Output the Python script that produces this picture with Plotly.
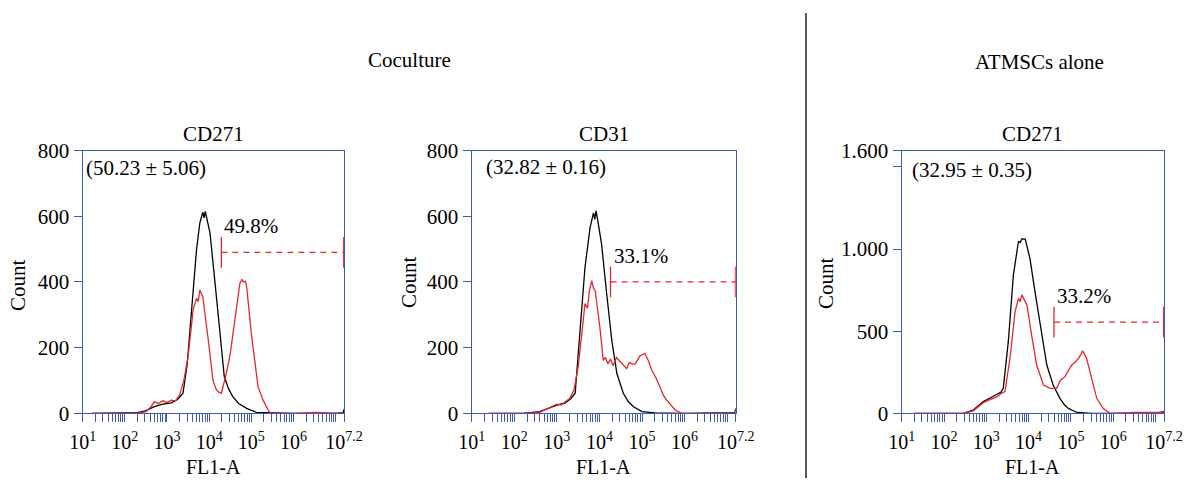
import plotly.graph_objects as go

# ---------------- data (x in log10 FL1-A units, y = count) ----------------
p1_black_log = [1.2, 2.0, 2.3, 2.5, 2.7, 2.9, 3.1, 3.25, 3.38, 3.48, 3.58, 3.70, 3.78, 3.85, 3.88, 3.91, 3.95,
                4.02, 4.14, 4.25, 4.36, 4.46, 4.56, 4.70, 4.89, 5.12, 5.5, 6.0, 7.0, 7.18, 7.2]
p1_black_cnt = [0, 0, 2, 8, 20, 28, 32, 42, 61, 150, 315, 497, 580, 612, 595, 615, 590,
                549, 397, 245, 111, 75, 51, 30, 15, 3, 1, 0, 0, 2, 12]
p1_red_log = [1.2, 2.0, 2.3, 2.5, 2.62, 2.7, 2.8, 2.9, 3.0, 3.1, 3.2, 3.3, 3.4, 3.5, 3.62, 3.7, 3.74, 3.78, 3.85,
              3.98, 4.09, 4.16, 4.21, 4.29, 4.35, 4.41, 4.5, 4.57, 4.65, 4.73, 4.78, 4.81, 4.86, 4.89, 5.0,
              5.08, 5.16, 5.28, 5.4, 5.46, 6.0, 6.5, 7.0, 7.2]
p1_red_cnt = [0, 0, 0, 5, 20, 35, 30, 38, 33, 40, 38, 55, 100, 172, 315, 350, 340, 375, 354,
              223, 101, 75, 66, 61, 90, 122, 180, 244, 320, 396, 408, 400, 402, 386, 244,
              160, 81, 40, 10, 0, 0, 3, 0, 0]

p2_black_log = [1.4, 2.2, 2.6, 2.8, 3.0, 3.2, 3.33, 3.43, 3.54, 3.66, 3.78, 3.86, 3.89, 3.92, 3.97, 4.05,
                4.17, 4.29, 4.41, 4.56, 4.68, 4.8, 5.0, 5.3, 6.0, 7.0, 7.18, 7.2]
p2_black_cnt = [0, 0, 5, 15, 25, 32, 45, 61, 242, 444, 565, 610, 590, 616, 580, 515,
                364, 222, 121, 61, 35, 20, 5, 1, 0, 0, 2, 15]
p2_red_log = [1.4, 2.2, 2.6, 2.8, 3.0, 3.1, 3.2, 3.3, 3.4, 3.5, 3.6, 3.66, 3.72, 3.76, 3.82, 3.86, 3.9,
              4.01, 4.09, 4.14, 4.2, 4.26, 4.32, 4.4, 4.47, 4.55, 4.64, 4.7, 4.77, 4.84, 4.95, 5.07,
              5.15, 5.23, 5.32, 5.42, 5.5, 5.58, 5.68, 5.78, 5.93, 6.5, 7.2]
p2_red_cnt = [0, 0, 3, 15, 28, 25, 35, 45, 70, 141, 260, 334, 320, 370, 404, 380, 373,
              262, 161, 170, 150, 165, 145, 170, 160, 150, 136, 155, 150, 150, 175, 182,
              160, 131, 110, 81, 55, 40, 25, 10, 0, 0, 0]

p3_black_log = [1.3, 2.0, 2.46, 2.69, 2.8, 2.93, 3.1, 3.25, 3.35, 3.40, 3.52, 3.64, 3.76, 3.8, 3.84, 3.92,
                4.03, 4.15, 4.27, 4.43, 4.58, 4.74, 4.85, 4.94, 5.14, 5.5, 7.0, 7.2]
p3_black_cnt = [0, 0, 0, 20, 45, 71, 95, 115, 130, 152, 436, 843, 1046, 1040, 1062, 1060,
                944, 741, 538, 294, 172, 91, 50, 30, 5, 0, 0, 10]
p3_red_log = [1.3, 2.0, 2.46, 2.69, 2.8, 2.93, 3.1, 3.25, 3.35, 3.44, 3.56, 3.68, 3.76, 3.8, 3.84, 3.9, 3.96,
              4.07, 4.19, 4.35, 4.51, 4.66, 4.75, 4.86, 4.94, 5.02, 5.1, 5.18, 5.28, 5.37, 5.49,
              5.61, 5.76, 5.92, 6.5, 7.2]
p3_red_cnt = [0, 0, 0, 15, 40, 65, 85, 100, 120, 132, 335, 619, 700, 680, 721, 690, 660,
              477, 294, 172, 152, 152, 200, 223, 260, 294, 310, 335, 380, 335, 213,
              91, 30, 0, 5, 5]

panel_titles = ["CD271", "CD31", "CD271"]
group_titles = ["Coculture", "ATMSCs alone"]
mean_labels = ["(50.23 ± 5.06)", "(32.82 ± 0.16)", "(32.95 ± 0.35)"]
gate_labels = ["49.8%", "33.1%", "33.2%"]
gate_start_log = [4.29, 4.26, 4.60]
gate_end_log = [7.2, 7.2, 7.2]
gate_level = [490, 400, 555]
y_max = [800, 800, 1600]
y_tickvals = [[0, 200, 400, 600, 800], [0, 200, 400, 600, 800], [0, 500, 1000, 1600]]
y_ticktext = [["0", "200", "400", "600", "800"], ["0", "200", "400", "600", "800"],
              ["0", "500", "1.000", "1.600"]]
y_minor_vals = [[], [], [1500]]
x_decades = [1, 2, 3, 4, 5, 6]
x_label_top = 7.2
x_title = "FL1-A"
y_title = "Count"

# ---------------- style ----------------
BLUE = "#3d5bb4"
RED = "#e5262b"
FONT = "Liberation Serif, Times New Roman, serif"
FS = 21
W, H = 1185, 480
boxes = [(82.7, 344.0), (471.7, 735.7), (901.7, 1164.0)]  # px left/right
box_top, box_bot = 150.5, 413.3

def px(x):
    return x / W

def py(y):
    return 1 - y / H

# x tick values: labelled decades, minor multiples
xt_vals = [10 ** d for d in x_decades] + [10 ** x_label_top]
xt_text = [f"10<sup>{d}</sup>" for d in x_decades] + [f"10<sup>{x_label_top}</sup>"]
xm_vals = []
for d in range(1, 8):
    for m in range(1 if d == 7 else 2, 10):
        v = m * 10 ** d
        if v < 10 ** x_label_top:
            xm_vals.append(v)

panels = [
    (p1_black_log, p1_black_cnt, p1_red_log, p1_red_cnt),
    (p2_black_log, p2_black_cnt, p2_red_log, p2_red_cnt),
    (p3_black_log, p3_black_cnt, p3_red_log, p3_red_cnt),
]

fig = go.Figure()
layout = dict(width=W, height=H, margin=dict(l=0, r=0, t=0, b=0, autoexpand=False), autosize=False,
              paper_bgcolor="white", plot_bgcolor="white", showlegend=False,
              font=dict(family=FONT, size=FS, color="black"))
annotations = []

for i, (bl, bc, rl, rc) in enumerate(panels):
    xa = "x" if i == 0 else f"x{i+1}"
    ya = "y" if i == 0 else f"y{i+1}"
    fig.add_trace(go.Scatter(x=[10 ** v for v in bl], y=bc, mode="lines", xaxis=xa, yaxis=ya,
                             line=dict(color="black", width=1.3), hoverinfo="skip"))
    fig.add_trace(go.Scatter(x=[10 ** v for v in rl], y=rc, mode="lines", xaxis=xa, yaxis=ya,
                             line=dict(color=RED, width=1.3), hoverinfo="skip"))
    # gate
    gx = [10 ** gate_start_log[i], 10 ** gate_end_log[i] * 0.985]
    fig.add_trace(go.Scatter(x=gx, y=[gate_level[i]] * 2, mode="lines+markers", xaxis=xa, yaxis=ya,
                             line=dict(color=RED, width=1.3, dash="6px,5px"),
                             marker=dict(symbol="line-ns", size=22, color=RED,
                                         line=dict(color=RED, width=1.3)),
                             hoverinfo="skip"))
    l, r = boxes[i]
    axis_common = dict(showline=True, linecolor=BLUE, linewidth=1.3, mirror=True, automargin=False,
                       showgrid=False, zeroline=False, ticks="outside", ticklen=8,
                       tickcolor=BLUE, tickwidth=1.2, tickfont=dict(family=FONT, size=FS, color="black"))
    layout["xaxis" if i == 0 else f"xaxis{i+1}"] = dict(
        axis_common, type="log", range=[1, 7.2], domain=[px(l), px(r)], tickangle=0,
        anchor=ya, tickmode="array", tickvals=xt_vals, ticktext=xt_text, ticklabelstandoff=3,
        tickfont=dict(family=FONT, size=20, color="black"),
        minor=dict(tickmode="array", tickvals=xm_vals, ticks="outside", ticklen=8,
                   tickcolor=BLUE, tickwidth=1.2, showgrid=False))
    layout["yaxis" if i == 0 else f"yaxis{i+1}"] = dict(
        axis_common, range=[0, y_max[i]], domain=[py(box_bot), py(box_top)],
        anchor=xa, tickmode="array", tickvals=y_tickvals[i], ticktext=y_ticktext[i],
        minor=dict(tickmode="array", tickvals=y_minor_vals[i], ticks="outside", ticklen=8,
                   tickcolor=BLUE, tickwidth=1.2, showgrid=False))
    cx = (l + r) / 2
    annotations.append(dict(text=panel_titles[i], x=px(cx), y=py(134), xref="paper", yref="paper",
                            showarrow=False, xanchor="center", yanchor="middle"))
    annotations.append(dict(text=x_title, x=px(cx), y=py(467), xref="paper", yref="paper",
                            showarrow=False, xanchor="center", yanchor="middle",
                            font=dict(family=FONT, size=20, color="black")))
    annotations.append(dict(text=gate_labels[i], x=gate_start_log[i], y=gate_level[i], xref=xa, yref=ya,
                            showarrow=False, xanchor="left", yanchor="middle", xshift=1, yshift=26))

mean_pos = [(84, 168), (484, 167), (910, 170)]
for (mx, my), t in zip(mean_pos, mean_labels):
    annotations.append(dict(text=t, x=px(mx), y=py(my), xref="paper", yref="paper",
                            showarrow=False, xanchor="left", yanchor="middle"))
for (cx, cy) in [(18, 285), (409, 282), (826, 283)]:
    annotations.append(dict(text=y_title, x=px(cx), y=py(cy), xref="paper", yref="paper",
                            showarrow=False, textangle=-90, xanchor="center", yanchor="middle"))
for t, (cx, cy) in zip(group_titles, [(409, 60), (1039, 62)]):
    annotations.append(dict(text=t, x=px(cx), y=py(cy), xref="paper", yref="paper",
                            showarrow=False, xanchor="center", yanchor="middle"))

layout["annotations"] = annotations
layout["shapes"] = [dict(type="line", xref="paper", yref="paper", x0=px(806), x1=px(806),
                         y0=py(13), y1=py(478), line=dict(color="#222222", width=1.5))]
fig.update_layout(**layout)
fig.write_html("out.html")
